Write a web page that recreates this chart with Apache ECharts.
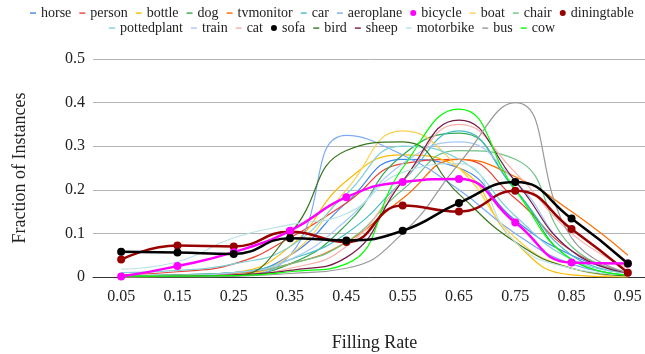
<!DOCTYPE html>
<html>
<head>
<meta charset="utf-8">
<script src="https://cdn.jsdelivr.net/npm/echarts@6/dist/echarts.min.js"></script>
<style>
    html, body { margin: 0; padding: 0; background: #fff; }
    #graph { width: 645px; height: 354px; }
</style>
</head>
<body>
<div id="graph"></div>
<script>
// filling rate bins
var rates = ['0.05', '0.15', '0.25', '0.35', '0.45', '0.55', '0.65', '0.75', '0.85', '0.95']

// fraction of instances per class
var horse = [0.002, 0.005, 0.01, 0.05, 0.17, 0.27, 0.25, 0.13, 0.05, 0.01]
var person = [0.005, 0.012, 0.03, 0.09, 0.17, 0.26, 0.27, 0.18, 0.06, 0.01]
var bottle = [0, 0.002, 0.01, 0.07, 0.22, 0.28, 0.25, 0.08, 0.005, 0]
var dog = [0, 0.002, 0.005, 0.03, 0.12, 0.28, 0.33, 0.2, 0.04, 0.005]
var tvmonitor = [0, 0.003, 0.008, 0.03, 0.08, 0.18, 0.27, 0.23, 0.15, 0.05]
var car = [0.003, 0.005, 0.01, 0.04, 0.1, 0.22, 0.335, 0.2, 0.05, 0.01]
var aeroplane = [0, 0.002, 0.005, 0.05, 0.325, 0.28, 0.2, 0.1, 0.03, 0.005]
var bicycle = [0.001, 0.025, 0.057, 0.106, 0.183, 0.218, 0.225, 0.125, 0.033, 0.031]
var boat = [0, 0.002, 0.005, 0.05, 0.2, 0.335, 0.25, 0.09, 0.02, 0]
var chair = [0.002, 0.005, 0.01, 0.03, 0.08, 0.2, 0.29, 0.27, 0.07, 0.01]
var diningtable = [0.04, 0.072, 0.07, 0.104, 0.08, 0.164, 0.15, 0.198, 0.11, 0.01]
var pottedplant = [0.01, 0.015, 0.03, 0.07, 0.19, 0.3, 0.27, 0.14, 0.04, 0.01]
var train = [0, 0.003, 0.01, 0.04, 0.13, 0.26, 0.31, 0.22, 0.06, 0.01]
var cat = [0, 0.002, 0.005, 0.02, 0.07, 0.22, 0.35, 0.24, 0.1, 0.02]
var sofa = [0.058, 0.056, 0.053, 0.089, 0.084, 0.106, 0.17, 0.218, 0.134, 0.031]
var bird = [0, 0, 0.002, 0.1, 0.29, 0.31, 0.19, 0.08, 0.02, 0.003]
var sheep = [0, 0.002, 0.005, 0.015, 0.045, 0.22, 0.36, 0.22, 0.06, 0.01]
var motorbike = [0.018, 0.035, 0.09, 0.12, 0.145, 0.24, 0.26, 0.08, 0.02, 0.005]
var bus = [0, 0, 0.002, 0.008, 0.02, 0.1, 0.26, 0.4, 0.09, 0.01]
var cow = [0.002, 0.002, 0.003, 0.012, 0.03, 0.25, 0.385, 0.2, 0.04, 0.005]

var yTicks = [0, 0.1, 0.2, 0.3, 0.4, 0.5]

var row1 = ['horse', 'person', 'bottle', 'dog', 'tvmonitor', 'car', 'aeroplane', 'bicycle', 'boat', 'chair', 'diningtable']
var row2 = ['pottedplant', 'train', 'cat', 'sofa', 'bird', 'sheep', 'motorbike', 'bus', 'cow']

var thin = [
    {name: 'horse', data: horse, color: '#4285f4'},
    {name: 'person', data: person, color: '#ea4335'},
    {name: 'bottle', data: bottle, color: '#fbbc04'},
    {name: 'dog', data: dog, color: '#34a853'},
    {name: 'tvmonitor', data: tvmonitor, color: '#ff6d01'},
    {name: 'car', data: car, color: '#46bdc6'},
    {name: 'aeroplane', data: aeroplane, color: '#7baaf7'},
    {name: 'boat', data: boat, color: '#fcd04f'},
    {name: 'chair', data: chair, color: '#71c287'},
    {name: 'pottedplant', data: pottedplant, color: '#7ed1d7'},
    {name: 'train', data: train, color: '#a8c7fa'},
    {name: 'cat', data: cat, color: '#f6b0ab'},
    {name: 'bird', data: bird, color: '#38761d'},
    {name: 'sheep', data: sheep, color: '#741b47'},
    {name: 'motorbike', data: motorbike, color: '#b9e3e8'},
    {name: 'bus', data: bus, color: '#999999'},
    {name: 'cow', data: cow, color: '#00ff00'}
]
var bold = [
    {name: 'diningtable', data: diningtable, color: '#990000'},
    {name: 'bicycle', data: bicycle, color: '#ff00ff'},
    {name: 'sofa', data: sofa, color: '#000000'}
]

var font = 'Liberation Serif'
// short dash inside a 6x6 box, so it keeps its shape in the legend
var dashIcon = 'path://M0,0L0,0M0,2.4L6,2.4L6,3.8L0,3.8ZM6,6L6,6'

var seriesData = []
thin.forEach(function (v) {
    seriesData.push({
        name: v.name,
        type: 'line',
        smooth: true,
        symbol: 'none',
        color: v.color,
        lineStyle: {width: 1.2, color: v.color},
        itemStyle: {color: v.color},
        data: v.data
    })
})
bold.forEach(function (v) {
    seriesData.push({
        name: v.name,
        type: 'line',
        smooth: true,
        symbol: 'circle',
        symbolSize: 8,
        color: v.color,
        lineStyle: {width: 2.5, color: v.color},
        itemStyle: {color: v.color},
        data: v.data
    })
})

function legendItems (names) {
    return names.map(function (n) {
        if (n === 'sofa' || n === 'bicycle' || n === 'diningtable') {
            return {name: n, icon: 'circle'}
        }
        return {name: n, icon: dashIcon}
    })
}

var legendBase = {
    itemWidth: 6,
    itemHeight: 6,
    itemGap: 8,
    padding: 0,
    textStyle: {fontFamily: font, fontSize: 14, color: '#222'}
}

var chart = echarts.init(document.getElementById('graph'))
chart.setOption({
    animation: false,
    textStyle: {fontFamily: font},
    legend: [
        Object.assign({}, legendBase, {left: 30, top: 6, data: legendItems(row1)}),
        Object.assign({}, legendBase, {left: 109, top: 21, data: legendItems(row2)})
    ],
    grid: {
        left: 93,
        top: 59,
        width: 563,
        height: 218,
        outerBoundsMode: 'none'
    },
    xAxis: {
        type: 'category',
        data: rates,
        name: 'Filling Rate',
        nameLocation: 'middle',
        nameGap: 57,
        nameTextStyle: {fontFamily: font, fontSize: 18, color: '#222'},
        axisLine: {lineStyle: {color: '#333', width: 1}},
        axisTick: {show: false},
        axisLabel: {fontFamily: font, fontSize: 16, color: '#222', margin: 12}
    },
    yAxis: {
        type: 'value',
        min: yTicks[0],
        max: yTicks[yTicks.length - 1],
        interval: 0.1,
        name: 'Fraction of Instances',
        nameLocation: 'middle',
        nameGap: 64,
        nameTextStyle: {fontFamily: font, fontSize: 18, color: '#222'},
        axisLine: {show: false},
        axisTick: {show: false},
        axisLabel: {fontFamily: font, fontSize: 16, color: '#222', margin: 8},
        splitLine: {lineStyle: {color: '#b4b4b4', width: 1}}
    },
    series: seriesData
})
</script>
</body>
</html>
